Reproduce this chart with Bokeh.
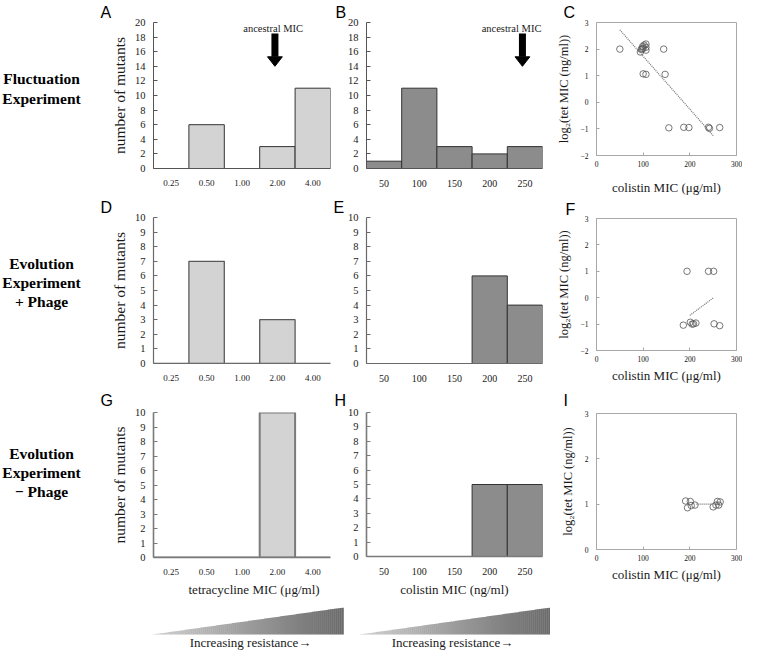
import numpy as np
from bokeh.plotting import figure
from bokeh.layouts import row, column
from bokeh.models import FactorRange, Range1d, Spacer, Title
from bokeh.core.properties import value
from bokeh.embed import file_html
from bokeh.resources import INLINE

SERIF = "Liberation Serif"
SANS = "Liberation Sans"
TXT = "#1a1a1a"

# ---------------- data ----------------
tet_bins = ["0.25", "0.50", "1.00", "2.00", "4.00"]
col_bins = ["50", "100", "150", "200", "250"]

fluct_tet = [0, 6, 0, 3, 11]
fluct_col = [1, 11, 3, 2, 3]
phage_tet = [0, 7, 0, 3, 0]
phage_col = [0, 0, 0, 6, 4]
nophage_tet = [0, 0, 0, 10, 0]
nophage_col = [0, 0, 0, 5, 5]

ancestral_tet = "2.00"
ancestral_col = "250"

fluct_colistin = [50, 94, 96, 98, 99, 100, 102, 106, 106, 106, 144, 100, 106, 147, 155, 187, 198, 240, 242, 264]
fluct_log2tet = [2.0, 1.89, 2.0, 2.0, 2.1, 2.03, 2.15, 2.19, 2.07, 1.96, 2.0, 1.07, 1.05, 1.05,
                 -0.96, -0.94, -0.95, -0.94, -0.98, -0.95]
fluct_trend_x = [50, 250]
fluct_trend_y = [2.72, -1.25]

phage_colistin = [194, 240, 251, 186, 201, 205, 208, 213, 252, 264]
phage_log2tet = [1.0, 1.0, 1.0, -1.04, -0.93, -1.0, -0.99, -0.96, -0.99, -1.06]
phage_trend_x = [200, 250]
phage_trend_y = [-0.67, -0.01]

nophage_colistin = [191, 201, 195, 203, 211, 250, 256, 262, 259, 265]
nophage_log2tet = [1.07, 1.06, 0.92, 0.97, 0.98, 0.94, 0.98, 0.98, 1.06, 1.05]
nophage_trend_x = [214, 248]
nophage_trend_y = [1.0, 1.0]

row_labels = [["Fluctuation", "Experiment"],
              ["Evolution", "Experiment", "+ Phage"],
              ["Evolution", "Experiment", "\u2212 Phage"]]

LIGHT = "#d3d3d3"
DARK = "#8c8c8c"


def base_fig(width, height, bl, br, bt, bb, **kw):
    p = figure(width=width, height=height, output_backend="svg", toolbar_location=None,
               min_border_left=bl, min_border_right=br, min_border_top=bt, min_border_bottom=bb, **kw)
    p.xgrid.visible = False
    p.ygrid.visible = False
    p.background_fill_color = "white"
    p.border_fill_color = "white"
    return p


def set_letter(p, letter, dx, standoff):
    t = p.title
    t.text = letter
    t.align = "left"
    t.offset = dx
    t.standoff = standoff
    t.vertical_align = "bottom"
    t.text_font = SANS
    t.text_font_size = "16px"
    t.text_font_style = "normal"
    t.text_color = "black"


def hist(cats, counts, ymax, ystep, width, height, borders, fill, line, lw, axis_color, axis_w,
         cat_font, ylabel=None, xlabel=None):
    bl, br, bt, bb = borders
    p = base_fig(width, height, bl, br, bt, bb, x_range=FactorRange(*cats), y_range=Range1d(0, ymax))
    p.outline_line_color = None
    p.vbar(x=cats, top=counts, bottom=0, width=1.0, fill_color=fill, line_color=line, line_width=lw)
    xa = p.xaxis[0]
    xa.axis_line_color = axis_color
    xa.axis_line_width = axis_w
    xa.major_tick_line_color = None
    xa.minor_tick_line_color = None
    xa.major_label_text_font = SERIF
    xa.major_label_text_font_size = cat_font
    xa.major_label_text_color = TXT
    xa.major_label_standoff = 5
    ya = p.yaxis[0]
    ya.ticker = list(range(0, ymax + 1, ystep))
    ya.axis_line_color = axis_color
    ya.axis_line_width = axis_w
    ya.major_tick_in = 4
    ya.major_tick_out = 0
    ya.major_tick_line_color = axis_color
    ya.minor_tick_line_color = None
    ya.major_label_text_font = SERIF
    ya.major_label_text_font_size = "10.5px"
    ya.major_label_text_color = TXT
    ya.major_label_standoff = 8
    if ylabel:
        ya.axis_label = ylabel
        ya.axis_label_text_font = SERIF
        ya.axis_label_text_font_size = "15.5px"
        ya.axis_label_text_font_style = "normal"
        ya.axis_label_text_color = TXT
        ya.axis_label_standoff = 4
    if xlabel:
        text, align, off = xlabel
        p.add_layout(Title(text=text, align=align, offset=off, standoff=9,
                           vertical_align="top", text_font=SERIF, text_font_size="13px",
                           text_font_style="normal", text_color=TXT), "below")
    return p


def add_ancestral(p, cat, text_off):
    p.text(x=[(cat, text_off)], y=[19.2], text=["ancestral MIC"], text_align="center",
           text_baseline="alphabetic", text_font=value(SERIF), text_font_size="10.5px", text_color=TXT)
    p.segment(x0=[(cat, -0.07)], y0=[18.5], x1=[(cat, -0.07)], y1=[15.3], line_width=7, line_color="black")
    p.patch(x=[(cat, -0.28), (cat, 0.14), (cat, -0.07)], y=[15.3, 15.3, 14.0],
            fill_color="black", line_color="black", line_width=1)


def scatter_panel(xs, ys, tx, ty, ymin, ymax, width, height, borders, xl_standoff):
    bl, br, bt, bb = borders
    p = base_fig(width, height, bl, br, bt, bb, x_range=Range1d(0, 300), y_range=Range1d(ymin, ymax))
    p.outline_line_color = "#a8a8a8"
    p.outline_line_width = 1
    p.scatter(xs, ys, marker="circle", size=6.5, fill_color=None, line_color="#555555", line_width=0.8)
    p.line(tx, ty, line_dash="1 1", line_color="#6f6f6f", line_width=1.2)
    xa = p.xaxis[0]
    ya = p.yaxis[0]
    xa.ticker = [0, 100, 200, 300]
    ya.ticker = list(range(ymin, ymax + 1))
    for a in (xa, ya):
        a.axis_line_color = None
        a.major_tick_in = 3
        a.major_tick_out = 0
        a.major_tick_line_color = "#a8a8a8"
        a.minor_tick_line_color = None
        a.major_label_text_font = SERIF
        a.major_label_text_font_size = "7.5px"
        a.major_label_text_color = "#111111"
        a.axis_label_text_font = SERIF
        a.axis_label_text_font_style = "normal"
        a.axis_label_text_color = TXT
    xa.major_label_standoff = 5
    ya.major_label_standoff = 8
    xa.axis_label = "colistin MIC (\u03bcg/ml)"
    xa.axis_label_text_font_size = "13px"
    xa.axis_label_standoff = xl_standoff
    ya.axis_label = "log\u2082(tet MIC (ng/ml))"
    ya.axis_label_text_font_size = "12.5px"
    ya.axis_label_standoff = 7
    return p


# ---------------- histograms ----------------
LBL_W, TOT_H = 96, 650
TET_W, COL_W = 236, 218
TB = (57, 2)
CB = (34, 8)

pA = hist(tet_bins, fluct_tet, 20, 2, TET_W, 194, TB + (21, 26), LIGHT, "#333333", 1, "#555555", 1,
          "9px", ylabel="number of mutants")
pB = hist(col_bins, fluct_col, 20, 2, COL_W, 194, CB + (21, 26), DARK, "#333333", 1, "#555555", 1, "10px")
pD = hist(tet_bins, phage_tet, 10, 1, TET_W, 192, TB + (21, 23), LIGHT, "#5a5a5a", 1.3, "#6a6a6a", 1.2,
          "9px", ylabel="number of mutants")
pE = hist(col_bins, phage_col, 10, 1, COL_W, 192, CB + (21, 23), DARK, "#333333", 1, "#6a6a6a", 1.2, "10px")
pG = hist(tet_bins, nophage_tet, 10, 1, TET_W, 217, TB + (22, 46), LIGHT, "#7a7a7a", 2, "#7a7a7a", 1.6,
          "9px", ylabel="number of mutants", xlabel=("tetracycline MIC (\u03bcg/ml)", "left", 35))
pH = hist(col_bins, nophage_col, 10, 1, COL_W, 217, CB + (22, 46), DARK, "#333333", 1, "#7a7a7a", 1.6,
          "10px", xlabel=("colistin MIC (ng/ml)", "center", 0))

add_ancestral(pA, ancestral_tet, -0.12)
add_ancestral(pB, ancestral_col, -0.38)

set_letter(pA, "A", -53, 3)
set_letter(pB, "B", -31, 3)
set_letter(pD, "D", -53, 4)
set_letter(pE, "E", -33, 4)
set_letter(pG, "G", -53, 6.5)
set_letter(pH, "H", -32, 6.5)

# ---------------- scatter panels ----------------
SC_W = 192
pC = scatter_panel(fluct_colistin, fluct_log2tet, fluct_trend_x, fluct_trend_y, -2, 3, SC_W, 197,
                   (46, 6, 18, 39), 10)
pF = scatter_panel(phage_colistin, phage_log2tet, phage_trend_x, phage_trend_y, -2, 3, SC_W, 188,
                   (46, 6, 17, 32), 3)
pI = scatter_panel(nophage_colistin, nophage_log2tet, nophage_trend_x, nophage_trend_y, 0, 3, SC_W, 199,
                   (46, 6, 24, 33), 3)
set_letter(pC, "C", -33, 2.5)
set_letter(pF, "F", -31, 1.5)
set_letter(pI, "I", -33, 8.5)

# ---------------- row labels ----------------
pL = base_fig(LBL_W, TOT_H, 0, 0, 0, 0, x_range=Range1d(0, LBL_W), y_range=Range1d(TOT_H, 0))
pL.axis.visible = False
pL.outline_line_color = None
row_base = [[78, 98], [263, 282, 301], [453, 472, 491]]
for lines, ys in zip(row_labels, row_base):
    pL.text(x=[41] * len(lines), y=ys, text=lines, text_align="center", text_baseline="alphabetic",
            text_font=value(SERIF), text_font_style="bold", text_font_size="15.5px", text_color="black")

# ---------------- gradient strip ----------------
GR_W, GR_H = TET_W + COL_W, 47
pR = base_fig(GR_W, GR_H, 0, 0, 0, 0, x_range=Range1d(0, GR_W), y_range=Range1d(GR_H, 0))
pR.axis.visible = False
pR.outline_line_color = None


def gradient(p, x0, x1, ytop, ybot, n=96):
    xs = np.linspace(x0, x1, n + 1)
    lefts, rights = xs[:-1], xs[1:]
    frac = ((lefts + rights) / 2 - x0) / (x1 - x0)
    tops = ybot - (ybot - ytop) * frac
    cols = []
    for f in frac:
        g = int(round(205 - (205 - 106) * f))
        cols.append("#%02x%02x%02x" % (g, g, g))
    p.quad(left=lefts, right=rights + 0.3, top=tops, bottom=[ybot] * n, fill_color=cols, line_color=None)


gradient(pR, 56, 247, 4, 31)
gradient(pR, 263, 454, 4, 31)
pR.text(x=[154, 356], y=[39, 39], text=["Increasing resistance\u2192", "Increasing resistance\u2192"],
        text_align="center", text_baseline="middle", text_font=value(SERIF), text_font_size="13px",
        text_color=TXT)

# ---------------- layout ----------------
tet_col = column(pA, pD, pG, spacing=0)
col_col = column(pB, pE, pH, spacing=0)
mid = column(row(tet_col, col_col, spacing=0), pR, spacing=0)
right = column(pC, pF, pI, Spacer(width=SC_W, height=TOT_H - 197 - 188 - 199), spacing=0)
layout = row(pL, mid, right, spacing=0)

open("out.html", "w").write(file_html(layout, INLINE))
